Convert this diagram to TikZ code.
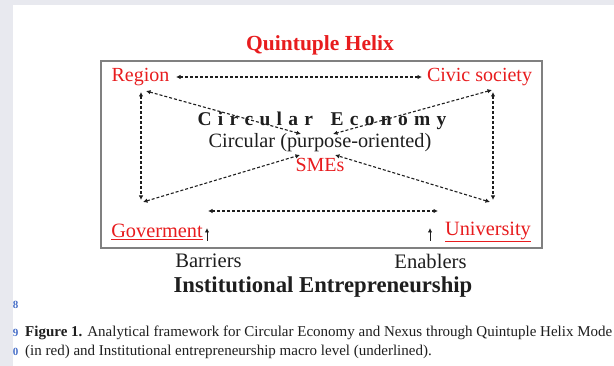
\documentclass[tikz,border=0pt]{standalone}
\usepackage{fontspec}
\setmainfont{Liberation Serif}
\usetikzlibrary{arrows.meta}
\definecolor{qred}{RGB}{232,28,30}
\definecolor{stripgray}{RGB}{232,233,239}
\definecolor{boxgray}{RGB}{128,128,128}
\definecolor{lnblue}{RGB}{70,110,200}
\definecolor{ink}{RGB}{30,30,30}
\newcommand\lsp{\kern6.3pt}
\begin{document}
\begin{tikzpicture}[x=1pt,y=-1pt,
  lbl/.style={inner sep=0pt,anchor=center,text=qred,font=\fontsize{20}{24}\selectfont},
  blk/.style={inner sep=0pt,anchor=center,text=ink},
  dashconn/.style={draw=ink,line width=1.1pt,dash pattern=on 3pt off 2pt,{Latex[length=4.5pt,width=4.5pt]}-{Latex[length=4.5pt,width=4.5pt]}},
  solidup/.style={draw=ink,line width=1pt,-{Latex[length=4.5pt,width=4.5pt]}},
  lnum/.style={inner sep=0pt,anchor=center,text=lnblue,font=\bfseries\fontsize{11}{12}\selectfont}
]
\useasboundingbox (0,0) rectangle (614,366);
\fill[white] (0,0) rectangle (614,366);
\fill[stripgray] (0,0) rectangle (614,5);
\fill[stripgray] (0,0) rectangle (12.7,366);

% frame
\draw[boxgray,line width=1.6pt] (101,61) rectangle (542,248);

% texts
\node[lbl,font=\bfseries\fontsize{21.5}{24}\selectfont] (title) at (320,45) {Quintuple Helix};
\node[lbl] (region) at (140.5,77) {Region};
\node[lbl] (civic) at (479.5,77) {Civic society};
\node[blk,font=\bfseries\fontsize{19.5}{22}\selectfont] (ce) at (322,121) {C\lsp i\lsp r\lsp c\lsp u\lsp l\lsp a\lsp r\lsp\ \lsp E\lsp c\lsp o\lsp n\lsp o\lsp m\lsp y};
\node[blk,font=\fontsize{20.3}{24}\selectfont] (cp) at (320,143) {Circular (purpose-oriented)};
\node[lbl] (smes) at (320,165) {SMEs};
\node[lbl,font=\fontsize{20.3}{24}\selectfont] (gov) at (157,232) {\underline{Goverment}};
\node[lbl,font=\fontsize{20.3}{24}\selectfont] (uni) at (488,232) {\underline{University}};
\node[blk,font=\fontsize{20.6}{24}\selectfont] (barriers) at (208.5,261) {Barriers};
\node[blk,font=\fontsize{20.6}{24}\selectfont] (enablers) at (430.5,261) {Enablers};
\node[blk,font=\bfseries\fontsize{22.7}{26}\selectfont] (ie) at (323,287) {Institutional Entrepreneurship};

% arrow end points
\coordinate (rc1) at (176,77);
\coordinate (rc2) at (422,77);
\coordinate (lv1) at (141,92);
\coordinate (lv2) at (141,200);
\coordinate (rv1) at (493,92);
\coordinate (rv2) at (493,200);
\coordinate (d1a) at (146,91);
\coordinate (d1b) at (301,134);
\coordinate (d2a) at (492,90);
\coordinate (d2b) at (333,134);
\coordinate (d3a) at (143,202);
\coordinate (d3b) at (300,155);
\coordinate (d4a) at (490,202);
\coordinate (d4b) at (335,155);
\coordinate (bh1) at (208,211);
\coordinate (bh2) at (438,211);
\coordinate (ua1) at (207,241);
\coordinate (ua2) at (207,228);
\coordinate (ub1) at (430,241);
\coordinate (ub2) at (430,228);

\draw[dashconn] (rc1) -- (rc2);
\draw[dashconn] (lv1) -- (lv2);
\draw[dashconn] (rv1) -- (rv2);
\draw[dashconn] (d1a) -- (d1b);
\draw[dashconn] (d2a) -- (d2b);
\draw[dashconn] (d3a) -- (d3b);
\draw[dashconn] (d4a) -- (d4b);
\draw[dashconn] (bh1) -- (bh2);
\draw[solidup] (ua1) -- (ua2);
\draw[solidup] (ub1) -- (ub2);

% caption area
\node[lnum] (ln8) at (15.5,305) {8};
\node[lnum] (ln9) at (15.5,333) {9};
\node[lnum] (ln0) at (15.5,352) {0};
\node[inner sep=0pt,anchor=base west,text=ink,font=\fontsize{15}{18}\selectfont] (cap1) at (25,336.5) {\textbf{Figure 1.} Analytical framework for Circular Economy and Nexus through Quintuple Helix Mode};
\node[inner sep=0pt,anchor=base west,text=ink,font=\fontsize{15}{18}\selectfont] (cap2) at (25,356) {(in red) and Institutional entrepreneurship macro level (underlined).};
\end{tikzpicture}
\end{document}
